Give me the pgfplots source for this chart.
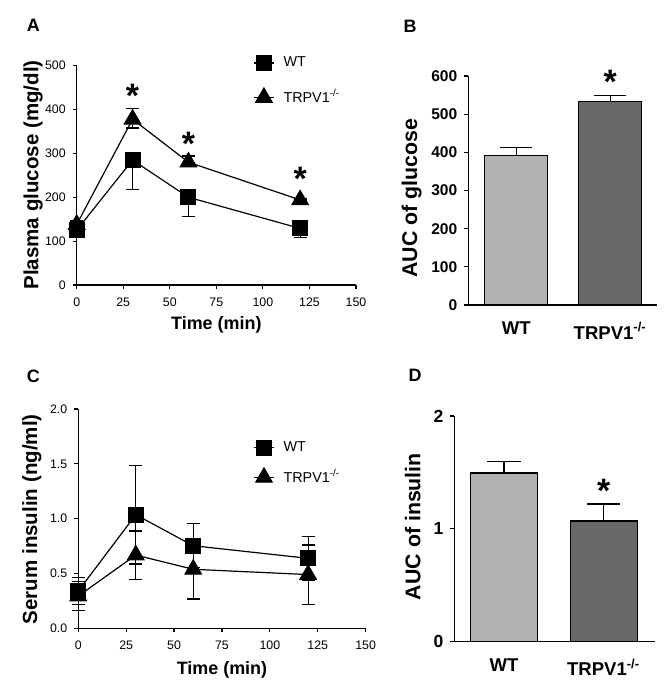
\documentclass[border=0pt]{standalone}
\usepackage{fontspec}
\setmainfont{Liberation Sans}
\usepackage{pgfplots}
\pgfplotsset{compat=1.18}

\definecolor{lightbar}{RGB}{178,178,178}
\definecolor{darkbar}{RGB}{104,104,104}

\tikzset{ast/.style={font=\bfseries\fontsize{17}{18}\selectfont, yshift=-3.7bp}}

\pgfplotsset{
  base/.style={scale only axis, anchor=south west,
    axis x line=bottom, axis y line=left,
    axis line style={line width=0.6pt, -},
    tick align=outside, major tick length=2bp,
    tick style={line width=0.6pt, black},
    /pgf/number format/assume math mode=true,
    clip=false},
  linepanel/.style={base, xmin=0, xmax=150, xtick={0,25,...,150},
    ticklabel style={font=\fontsize{6.2}{7}\selectfont},
    xticklabel style={yshift=-1pt},
    xlabel={Time (min)},
    xlabel style={font=\bfseries\fontsize{9}{10}\selectfont, anchor=center},
    ylabel style={font=\bfseries\fontsize{10.3}{11}\selectfont, anchor=center},
    legend cell align=left,
    legend image code/.code={\draw[mark repeat=2,mark phase=2,##1] plot coordinates {(0bp,0bp)(5bp,0bp)(10bp,0bp)};},
    legend style={draw=none, fill=none, font=\fontsize{7.2}{8}\selectfont, anchor=north west, inner sep=0pt,
      /tikz/every odd column/.append style={column sep=2.5bp}}},
  barpanel/.style={base, xtick={0,1}, xticklabels={WT,TRPV1\textsuperscript{-/-}},
    major x tick style={draw=none},
    yticklabel style={font=\bfseries\fontsize{7.8}{8}\selectfont},
    xticklabel style={font=\bfseries\fontsize{9.3}{10}\selectfont, yshift=-3bp},
    ylabel style={font=\bfseries\fontsize{10.7}{11}\selectfont, anchor=center}},
  wt/.style={black, line width=0.6pt, mark=square*, mark size=3.7bp, mark options={solid, fill=black}},
  ko/.style={black, line width=0.6pt, mark=triangle*, mark size=4.7bp, mark options={solid, fill=black}},
  eb/.style={error bars/.cd, y explicit, error bar style={line width=0.6pt, black},
    error mark=-, error mark options={rotate=90, mark size=#1, line width=0.6pt, black}}
}

\begin{document}
\begin{tikzpicture}
\path[use as bounding box] (0,0) rectangle (334.5bp,348.5bp);

% Panel A
\begin{axis}[linepanel, at={(38.35bp,206bp)}, width=139.65bp, height=109.65bp,
  ymin=0, ymax=500, ytick={0,100,...,500},
  ylabel={Plasma glucose (mg/dl)},
  xlabel style={at={(axis description cs:0.5,-0.182)}},
  ylabel style={at={(axis description cs:-0.1565,0.502)}},
  legend style={at={(axis description cs:0.631,1.062)}, row sep=6bp}]
\addplot[wt, eb=3.3bp, y dir=minus]
  coordinates {(0,125) +- (0,10) (30,285) +- (0,67) (60,200) +- (0,43) (120,129) +- (0,21)};
\addlegendentry{WT}
\addplot[ko, eb=3.3bp, y dir=both]
  coordinates {(0,138) += (0,8) -= (0,0) (30,378) += (0,24) -= (0,20) (60,280) += (0,14) -= (0,0) (120,194) += (0,4) -= (0,0)};
\addlegendentry{TRPV1\textsuperscript{-/-}}
\node[ast] at (axis cs:30,448) {*};
\node[ast] at (axis cs:60,338) {*};
\node[ast] at (axis cs:120,260) {*};
\end{axis}

% Panel B
\begin{axis}[barpanel, at={(234.15bp,196bp)}, width=94.2bp, height=114.5bp,
  xmin=-0.511, xmax=1.495, ymin=0, ymax=600, ytick={0,100,...,600},
  ylabel={AUC of glucose},
  ylabel style={at={(axis description cs:-0.300,0.467)}}]
\addplot[ybar, bar width=0.67, bar shift=0pt, fill=lightbar, draw=black, line width=0.6pt,
  eb=8bp, y dir=plus]
  coordinates {(0,391) +- (0,22)};
\addplot[ybar, bar width=0.67, bar shift=0pt, fill=darkbar, draw=black, line width=0.6pt,
  eb=8bp, y dir=plus]
  coordinates {(1,534) +- (0,14)};
\node[ast] at (axis cs:1,605) {*};
\end{axis}

% Panel C
\begin{axis}[linepanel, at={(39.15bp,34.35bp)}, width=143.65bp, height=109.65bp,
  ymin=0, ymax=2, ytick={0,0.5,...,2},
  yticklabel style={/pgf/number format/.cd, fixed, fixed zerofill, precision=1},
  ylabel={Serum insulin (ng/ml)},
  xlabel style={at={(axis description cs:0.5,-0.19)}},
  ylabel style={at={(axis description cs:-0.162,0.497)}},
  legend style={at={(axis description cs:0.608,0.872)}, row sep=3.5bp}]
\addplot[wt, eb=3.3bp, y dir=both]
  coordinates {(0,0.34) +- (0,0.125) (30,1.036) +- (0,0.45) (60,0.753) +- (0,0.2) (120,0.638) +- (0,0.2)};
\addlegendentry{WT}
\addplot[ko, eb=3.3bp, y dir=both]
  coordinates {(0,0.294) +- (0,0.13) (30,0.668) +- (0,0.22) (60,0.538) +- (0,0.27) (120,0.49) +- (0,0.27)};
\addlegendentry{TRPV1\textsuperscript{-/-}}
\end{axis}

% Panel D
\begin{axis}[barpanel, at={(227.15bp,27.65bp)}, width=100.35bp, height=112.85bp,
  xmin=-0.50, xmax=1.516, ymin=0, ymax=2, ytick={0,1,2},
  yticklabel style={font=\bfseries\fontsize{8.8}{9}\selectfont},
  ylabel={AUC of insulin},
  ylabel style={at={(axis description cs:-0.207,0.51)}}]
\addplot[ybar, bar width=0.673, bar shift=0pt, fill=lightbar, draw=black, line width=0.6pt,
  eb=8.3bp, y dir=plus]
  coordinates {(0,1.495) +- (0,0.10)};
\addplot[ybar, bar width=0.673, bar shift=0pt, fill=darkbar, draw=black, line width=0.6pt,
  eb=8.3bp, y dir=plus]
  coordinates {(1,1.07) +- (0,0.15)};
\node[ast] at (axis cs:1,1.40) {*};
\end{axis}

\node[font=\bfseries\fontsize{9}{10}\selectfont] at (16.65bp,336bp) {A};
\node[font=\bfseries\fontsize{9}{10}\selectfont] at (205bp,335.5bp) {B};
\node[font=\bfseries\fontsize{9}{10}\selectfont] at (16.65bp,160.15bp) {C};
\node[font=\bfseries\fontsize{9}{10}\selectfont] at (207.5bp,161bp) {D};
\end{tikzpicture}
\end{document}
